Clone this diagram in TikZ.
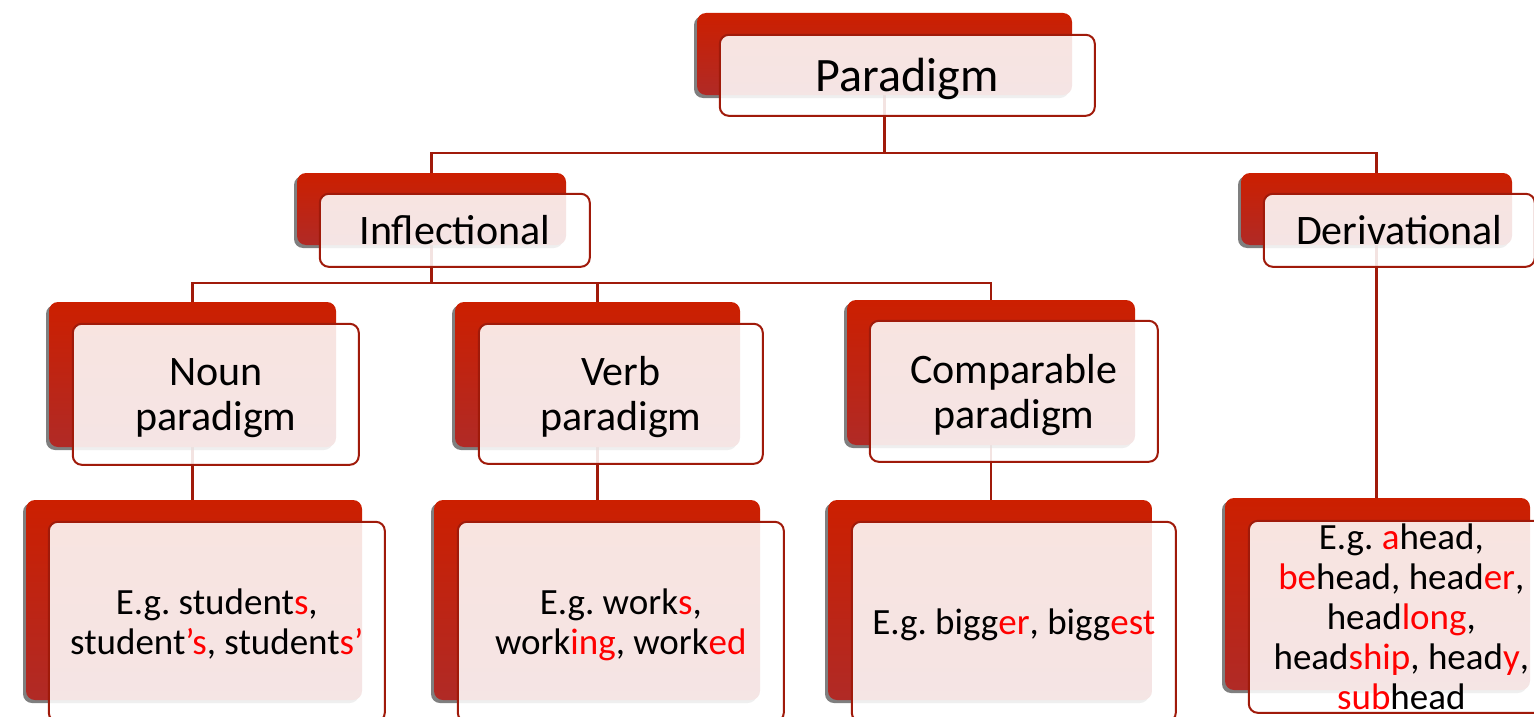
\documentclass[tikz,border=0pt]{standalone}
\usepackage{fontspec}
\setmainfont{Carlito}
\frenchspacing
\usetikzlibrary{positioning,shadows,backgrounds}
\definecolor{boxred}{RGB}{204,31,0}
\definecolor{boxdark}{RGB}{176,42,38}
\definecolor{linered}{RGB}{160,26,10}
\definecolor{sfxred}{RGB}{255,0,0}
\newcommand{\sfx}[1]{\textcolor{sfxred}{#1}}
\tikzset{
  backbox/.style={rounded corners=9pt, top color=boxred, bottom color=boxdark, inner sep=0pt,
    drop shadow={shadow xshift=-3pt, shadow yshift=-3pt, opacity=.5, fill=black}},
  frontbox/.style={rounded corners=9pt, draw=linered, line width=2pt, fill=white,
    fill opacity=.88, text opacity=1, align=center, inner sep=0pt, text depth=0pt},
  conn/.style={linered, line width=2.4pt},
  txtbig/.style={font=\fontsize{48}{56}\selectfont},
  txtmid/.style={font=\fontsize{42}{45}\selectfont},
  txtex/.style={font=\fontsize{37}{40}\selectfont},
}
\begin{document}
\begin{tikzpicture}[x=1pt,y=-1pt]
  \useasboundingbox (0,0) rectangle (1534,717);
  % top
  \node[backbox, minimum width=375pt, minimum height=82pt] (pd) at (884.5,54) {};
  \node[frontbox, txtbig, minimum width=375pt, minimum height=81pt, below right=21pt and 22pt of pd.north west] (pd-t) {Paradigm};
  % second row
  \node[backbox, minimum width=269pt, minimum height=72pt] (infl) at (431.5,209) {};
  \node[frontbox, txtmid, minimum width=270pt, minimum height=73pt, below right=20pt and 22pt of infl.north west] (infl-t) {Inflectional};
  \node[backbox, minimum width=271pt, minimum height=72pt] (der) at (1376.5,209) {};
  \node[frontbox, txtmid, minimum width=271pt, minimum height=73pt, below right=20pt and 22pt of der.north west] (der-t) {Derivational};
  % third row
  \node[backbox, minimum width=287pt, minimum height=145pt] (noun) at (192.5,374.5) {};
  \node[frontbox, txtmid, minimum width=286pt, minimum height=141pt, below right=21pt and 23pt of noun.north west] (noun-t) {Noun\\paradigm};
  \node[backbox, minimum width=285pt, minimum height=145pt] (verb) at (597.5,374.5) {};
  \node[frontbox, txtmid, minimum width=284pt, minimum height=140pt, below right=21pt and 23pt of verb.north west] (verb-t) {Verb\\paradigm};
  \node[backbox, minimum width=288pt, minimum height=145pt] (comp) at (991,372.5) {};
  \node[frontbox, txtmid, minimum width=288pt, minimum height=141pt, below right=20pt and 22pt of comp.north west] (comp-t) {Comparable\\paradigm};
  % examples
  \node[backbox, minimum width=336pt, minimum height=200pt] (nounex) at (194,600) {};
  \node[frontbox, txtex, minimum width=336pt, minimum height=200pt, below right=21pt and 22pt of nounex.north west] (nounex-t) {E.g. student\sfx{s},\\student\sfx{’s}, student\sfx{s’}};
  \node[backbox, minimum width=326pt, minimum height=200pt] (verbex) at (597,600) {};
  \node[frontbox, txtex, minimum width=326pt, minimum height=200pt, below right=21pt and 23pt of verbex.north west] (verbex-t) {E.g. work\sfx{s},\\work\sfx{ing}, work\sfx{ed}};
  \node[backbox, minimum width=324pt, minimum height=200pt] (compex) at (990,600) {};
  \node[frontbox, txtex, minimum width=324pt, minimum height=200pt, below right=21pt and 23pt of compex.north west] (compex-t) {E.g. bigg\sfx{er}, bigg\sfx{est}};
  \node[backbox, minimum width=305pt, minimum height=192pt] (derex) at (1377.5,594) {};
  \node[frontbox, txtex, minimum width=305pt, minimum height=192pt, below right=22pt and 23pt of derex.north west] (derex-t) {E.g. \sfx{a}head,\\\sfx{be}head, head\sfx{er},\\head\sfx{long},\\head\sfx{ship}, head\sfx{y},\\\sfx{sub}head};
  % connectors
  \begin{scope}[on background layer]
    \coordinate (bus1) at (884.5,153);
    \coordinate (bus2) at (431.5,283);
    \draw[conn] (pd.south) -- (bus1) -| (infl.north);
    \draw[conn] (bus1) -| (der.north);
    \draw[conn] (infl.south) -- (bus2) -| (noun.north);
    \draw[conn] (bus2) -| (verb.north);
    \draw[conn] (bus2) -| (comp.north);
    \draw[conn] (noun.south) -- (noun.south |- nounex.north);
    \draw[conn] (verb.south) -- (verb.south |- verbex.north);
    \draw[conn] (comp.south) -- (comp.south |- compex.north);
    \draw[conn] (der.south) -- (der.south |- derex.north);
  \end{scope}
\end{tikzpicture}
\end{document}
